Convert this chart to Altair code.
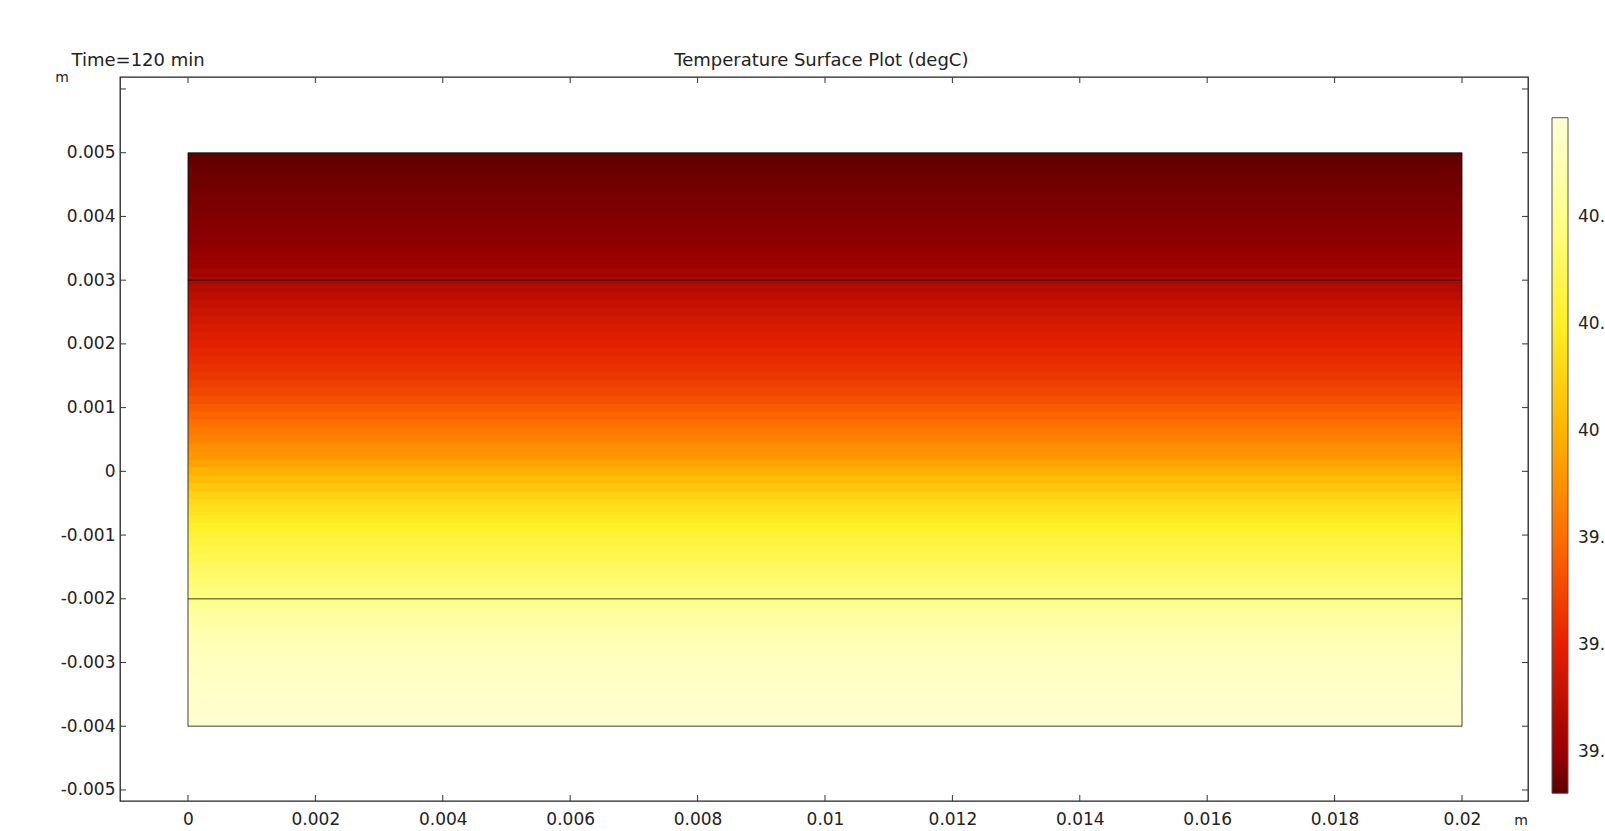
import altair as alt
import pandas as pd

# ---------------- values ----------------
title_left = "Time=120 min"
title_center = "Temperature Surface Plot (degC)"
unit_label = "m"

# vertical temperature profile (y in m -> T in degC), read down the middle of the
# geometry every 0.125 mm; the field is uniform along x
y_centers = [0.005, 0.004875, 0.00475, 0.004625, 0.0045, 0.004375, 0.00425, 0.004125,
             0.004, 0.003875, 0.00375, 0.003625, 0.0035, 0.003375, 0.00325, 0.003125,
             0.003, 0.002875, 0.00275, 0.002625, 0.0025, 0.002375, 0.00225, 0.002125,
             0.002, 0.001875, 0.00175, 0.001625, 0.0015, 0.001375, 0.00125, 0.001125,
             0.001, 0.000875, 0.00075, 0.000625, 0.0005, 0.000375, 0.00025, 0.000125,
             0.0, -0.000125, -0.00025, -0.000375, -0.0005, -0.000625, -0.00075, -0.000875,
             -0.001, -0.001125, -0.00125, -0.001375, -0.0015, -0.001625, -0.00175, -0.001875,
             -0.002, -0.002125, -0.00225, -0.002375, -0.0025, -0.002625, -0.00275, -0.002875,
             -0.003, -0.003125, -0.00325, -0.003375, -0.0035, -0.003625, -0.00375, -0.003875,
             -0.004]
temps = [39.330, 39.335, 39.340, 39.345, 39.350, 39.355, 39.360, 39.365,
         39.370, 39.375, 39.380, 39.385, 39.390, 39.400, 39.410, 39.430,
         39.450, 39.470, 39.490, 39.510, 39.530, 39.550, 39.570, 39.585,
         39.600, 39.615, 39.630, 39.645, 39.660, 39.680, 39.700, 39.725,
         39.750, 39.775, 39.800, 39.830, 39.860, 39.890, 39.920, 39.955,
         39.990, 40.025, 40.060, 40.095, 40.130, 40.155, 40.180, 40.205,
         40.230, 40.250, 40.270, 40.290, 40.310, 40.330, 40.350, 40.370,
         40.390, 40.420, 40.450, 40.465, 40.480, 40.495, 40.510, 40.520,
         40.530, 40.538, 40.545, 40.550, 40.556, 40.561, 40.566, 40.571,
         40.576]

domain_x = [0.0, 0.02]                       # geometry extent along x
domain_y = [-0.004, 0.005]                   # geometry extent along y
layer_bounds_y = [-0.004, -0.002, 0.003, 0.005]

x_ticks = [0, 0.002, 0.004, 0.006, 0.008, 0.01, 0.012, 0.014, 0.016, 0.018, 0.02]
y_tick_labels = [-0.005, -0.004, -0.003, -0.002, -0.001, 0, 0.001, 0.002, 0.003, 0.004, 0.005]
y_ticks = y_tick_labels + [0.006]

cbar_ticks = [39.4, 39.6, 39.8, 40, 40.2, 40.4]
cbar_domain = [39.323, 39.4, 39.6, 39.8, 40.0, 40.2, 40.4, 40.586]
cbar_colors = ["#5c0000", "#9a0000", "#e42000", "#ff6e00", "#ffb400",
               "#fff028", "#ffff8c", "#ffffd6"]

# ---------------- layout ----------------
W, H = 1408, 724
x_view = [-0.001067, 0.021036]
y_view = [-0.005173, 0.006188]
FONT = "DejaVu Sans"
TXT = "#222222"

half = 0.0000625
overlap = 0.00003
bands = pd.DataFrame({"yc": y_centers, "T": temps})
bands["y_top"] = [min(c + half, domain_y[1]) for c in y_centers]
bands["y_bot"] = [max(c - half - overlap, domain_y[0]) for c in y_centers]
bands["x0"] = domain_x[0]
bands["x1"] = domain_x[1]
bands["order"] = range(len(bands))

sx = alt.Scale(domain=x_view, nice=False, zero=False)
sy = alt.Scale(domain=y_view, nice=False, zero=False)

ax = alt.Axis(values=x_ticks, title=None, ticks=False, tickSize=0, domain=False,
              grid=False, labelFontSize=17, labelColor=TXT, labelPadding=10,
              labelFont=FONT, labelFlush=False, labelOverlap=False,
              labelExpr="toString(datum.value)")
ay = alt.Axis(values=y_tick_labels, title=None, ticks=False, tickSize=0, domain=False,
              grid=False, labelFontSize=17, labelColor=TXT, labelPadding=5,
              labelFont=FONT, labelFlush=False, labelOverlap=False,
              labelExpr="toString(datum.value)")

color_scale = alt.Scale(domain=cbar_domain, range=cbar_colors, interpolate="rgb",
                        nice=False, zero=False)
legend = alt.Legend(orient="none", legendX=1432, legendY=40.7, direction="vertical",
                    gradientLength=675.6, gradientThickness=16, values=cbar_ticks,
                    labelFontSize=17, labelOffset=10, labelColor=TXT, labelFont=FONT,
                    gradientStrokeColor="#555555", gradientStrokeWidth=1,
                    labelExpr="toString(datum.value)", labelOverlap=False, title=None)

field = alt.Chart(bands).mark_rect(strokeWidth=0).encode(
    x=alt.X("x0:Q", scale=sx, axis=ax),
    x2="x1:Q",
    y=alt.Y("y_top:Q", scale=sy, axis=ay),
    y2="y_bot:Q",
    color=alt.Color("T:Q", scale=color_scale, legend=legend),
    order="order:Q",
)

hlines = pd.DataFrame({"y": layer_bounds_y, "x0": domain_x[0], "x1": domain_x[1]})
vlines = pd.DataFrame({"x": domain_x, "y0": domain_y[0], "y1": domain_y[1]})

edge_style = dict(color="black", opacity=0.5, strokeWidth=1.5)
h_edges = alt.Chart(hlines).mark_rule(**edge_style).encode(
    x=alt.X("x0:Q", scale=sx, axis=ax), x2="x1:Q",
    y=alt.Y("y:Q", scale=sy, axis=ay),
)
v_edges = alt.Chart(vlines).mark_rule(**edge_style).encode(
    x=alt.X("x:Q", scale=sx, axis=ax),
    y=alt.Y("y0:Q", scale=sy, axis=ay), y2="y1:Q",
)

# inward ticks on all four sides of the frame
ydf = pd.DataFrame({"v": y_ticks})
xdf = pd.DataFrame({"v": x_ticks})
tick_style = dict(color="#333333", strokeWidth=1)
TL = 6
left_ticks = alt.Chart(ydf).mark_rule(**tick_style).encode(
    y=alt.Y("v:Q", scale=sy, axis=ay), x=alt.value(0), x2=alt.value(TL))
right_ticks = alt.Chart(ydf).mark_rule(**tick_style).encode(
    y=alt.Y("v:Q", scale=sy, axis=ay), x=alt.value(W - TL), x2=alt.value(W))
bottom_ticks = alt.Chart(xdf).mark_rule(**tick_style).encode(
    x=alt.X("v:Q", scale=sx, axis=ax), y=alt.value(H - TL), y2=alt.value(H))
top_ticks = alt.Chart(xdf).mark_rule(**tick_style).encode(
    x=alt.X("v:Q", scale=sx, axis=ax), y=alt.value(0), y2=alt.value(TL))


def label(text, x, y, size, align):
    return alt.Chart(pd.DataFrame({"t": [text]})).mark_text(
        align=align, baseline="alphabetic", fontSize=size, color=TXT, font=FONT
    ).encode(x=alt.value(x), y=alt.value(y), text="t:N")


t_left = label(title_left, -48.5, -11.5, 18, "left")
t_center = label(title_center, 701.3, -11.5, 18, "center")
m_y = label(unit_label, -58, 5, 14, "center")
m_x = label(unit_label, 1401, 748, 14, "center")

chart = alt.layer(
    field, h_edges, v_edges, left_ticks, right_ticks, bottom_ticks, top_ticks,
    t_left, t_center, m_y, m_x,
).properties(
    width=W, height=H,
    autosize=alt.AutoSizeParams(type="none"),
    padding={"left": 120, "top": 77, "right": 77, "bottom": 30},
    background="white",
).configure(
    font=FONT,
    view=alt.ViewConfig(stroke="#222222", strokeWidth=1.3),
)

chart.save("out.html", embed_options={"renderer": "svg", "actions": False})
